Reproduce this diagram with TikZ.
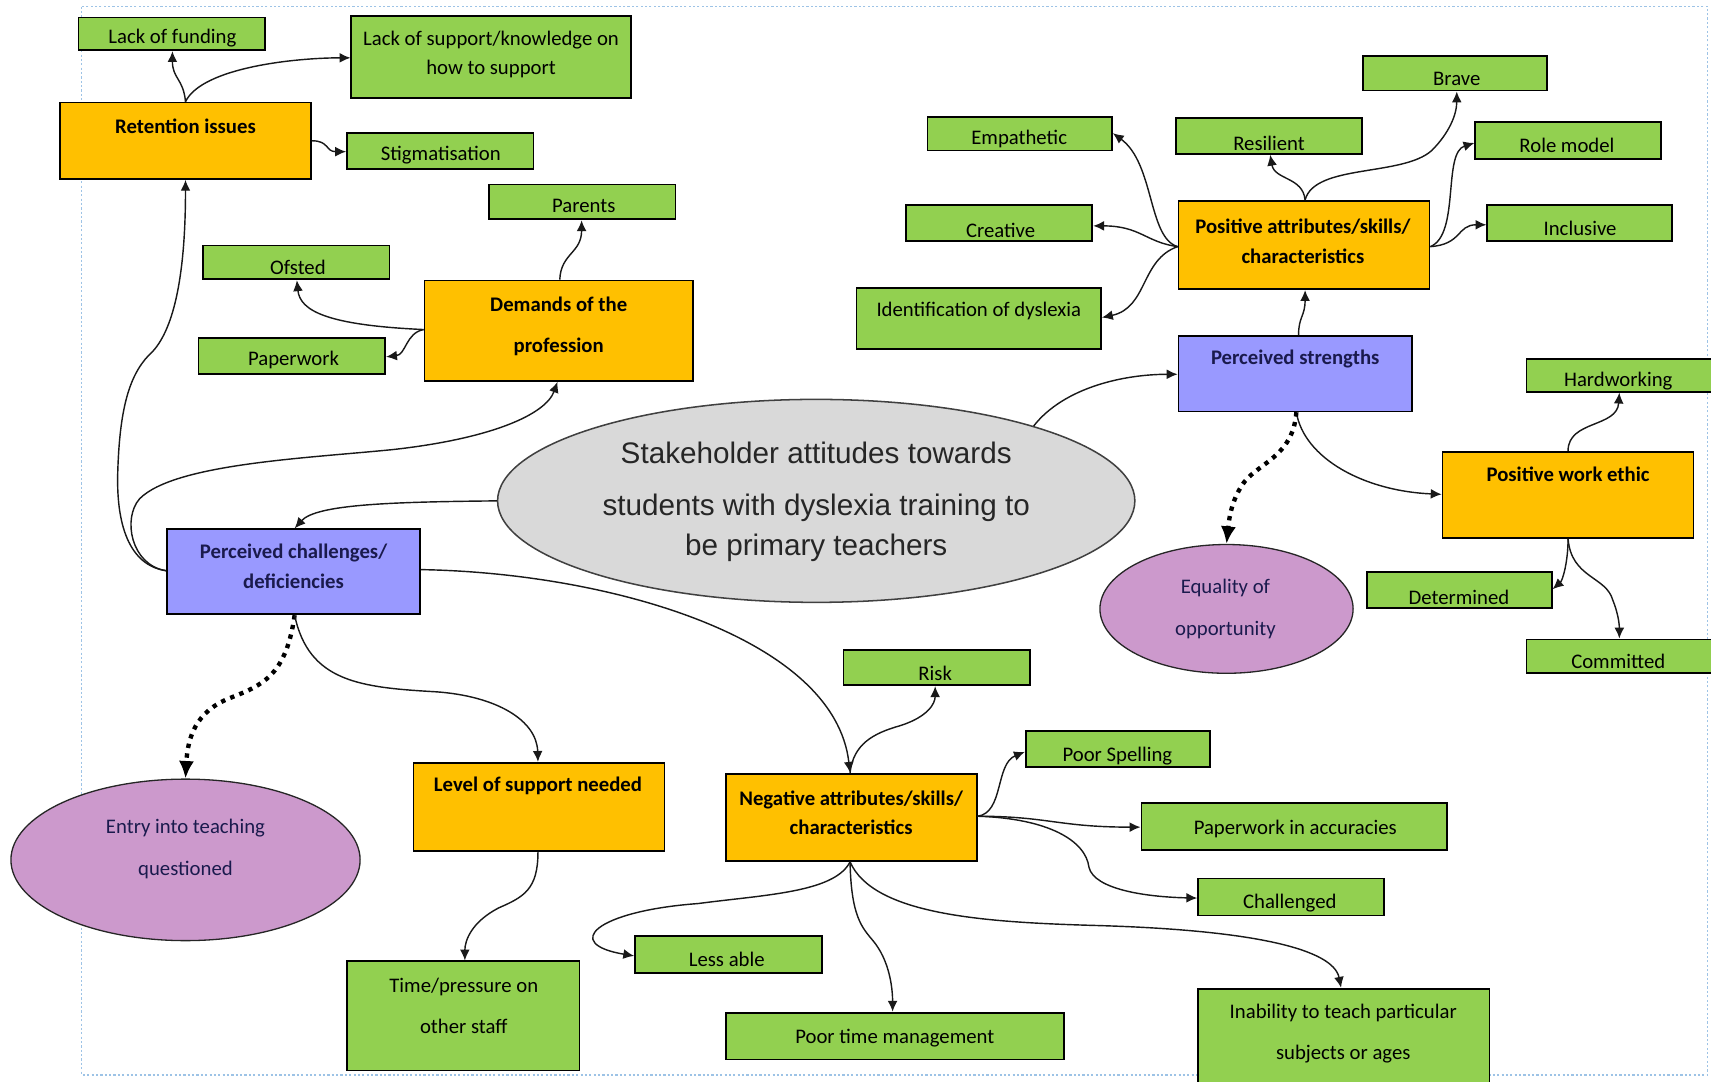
\documentclass[tikz,border=0pt]{standalone}
\usepackage{fontspec}
\setmainfont{Carlito}
\newfontfamily\arialfont{Liberation Sans}
\usetikzlibrary{arrows.meta,shapes.geometric,fit}
\definecolor{boxgreen}{HTML}{92D050}
\definecolor{boxorange}{HTML}{FFC000}
\definecolor{boxblue}{HTML}{9999FF}
\definecolor{ellpurple}{HTML}{CC99CC}
\definecolor{ellgray}{HTML}{D9D9D9}
\definecolor{navytext}{HTML}{1A1A4D}
\definecolor{bordblue}{HTML}{9DC3E6}
\definecolor{centxt}{HTML}{262626}
\newcommand\boxtight{\fontsize{9.5}{13.5}\selectfont}
\newcommand\boxloose{\fontsize{9.5}{19}\selectfont}
\tikzset{
  box/.style={rectangle, draw=black, line width=0.8pt, inner sep=0pt},
  gbox/.style={box, fill=boxgreen},
  obox/.style={box, fill=boxorange},
  bbox/.style={box, fill=boxblue},
  pell/.style={ellipse, draw=black!85, line width=0.6pt, fill=ellpurple, inner sep=0pt},
  cell/.style={ellipse, draw=black!75, line width=0.7pt, fill=ellgray, inner sep=0pt},
  txt/.style={font=\boxtight, align=center, inner sep=0pt, yshift=-1pt},
  txtb/.style={font=\boxtight\bfseries, align=center, inner sep=0pt, yshift=-1pt},
  conn/.style={draw=black!90, line width=0.65pt, -{Latex[length=5pt,width=4.5pt]}},
  dotconn/.style={draw=black, line width=2pt, dash pattern=on 2pt off 2.5pt, -{Latex[length=8pt,width=7pt]}}
}
\begin{document}
\begin{tikzpicture}[x=0.5pt,y=-0.5pt]
\useasboundingbox (0,0) rectangle (1568,991);
\clip (0,0) rectangle (1568,991);
\fill[white] (0,0) rectangle (1568,991);
\draw[bordblue, line width=0.6pt, dash pattern=on 1pt off 1pt] (75,6) rectangle (1565,985);

% ---- nodes ----
\node[gbox, fit={(72,16) (243,46)}] (lf) {};
\node[txt] (lf-t) at (158,33) {Lack of funding};
\node[gbox, fit={(322,15) (578,90)}] (ls) {};
\node[txt] (ls-t) at (450,48) {Lack of support/knowledge on\\how to support};
\node[obox, fit={(55,94) (285,164)}] (ret) {};
\node[txtb] (ret-t) at (170,114) {Retention issues};
\node[gbox, fit={(318,122) (489,155)}] (stig) {};
\node[txt] (stig-t) at (404,140) {Stigmatisation};
\node[gbox, fit={(448,169) (619,201)}] (par) {};
\node[txt] (par-t) at (535,187) {Parents};
\node[gbox, fit={(186,225) (357,256)}] (ofs) {};
\node[txt] (ofs-t) at (273,243) {Ofsted};
\node[obox, fit={(389,257) (635,349)}] (dem) {};
\node[txtb, font=\boxloose\bfseries] (dem-t) at (512,297) {Demands of the\\profession};
\node[gbox, fit={(182,310) (353,343)}] (pw) {};
\node[txt] (pw-t) at (269,328) {Paperwork};

\node[gbox, fit={(850,107) (1019,138)}] (emp) {};
\node[txt] (emp-t) at (934,125) {Empathetic};
\node[gbox, fit={(1078,108) (1248,141)}] (res) {};
\node[txt] (res-t) at (1163,129) {Resilient};
\node[gbox, fit={(1249,51) (1418,83)}] (brave) {};
\node[txt] (brave-t) at (1335,70) {Brave};
\node[gbox, fit={(1352,112) (1522,146)}] (role) {};
\node[txt] (role-t) at (1436,131) {Role model};
\node[gbox, fit={(830,188) (1001,221)}] (creat) {};
\node[txt] (creat-t) at (917,209) {Creative};
\node[gbox, fit={(1363,188) (1532,221)}] (incl) {};
\node[txt] (incl-t) at (1448,207) {Inclusive};
\node[obox, fit={(1080,184) (1310,265)}] (pa) {};
\node[txtb] (pa-t) at (1194,219) {Positive attributes/skills/\\characteristics};
\node[gbox, fit={(785,264) (1009,320)}] (idd) {};
\node[txt] (idd-t) at (897,283) {Identification of dyslexia};
\node[bbox, fit={(1080,308) (1294,377)}] (ps) {};
\node[txtb, text=navytext] (ps-t) at (1187,327) {Perceived strengths};
\node[gbox, fit={(1399,329) (1590,359)}] (hw) {};
\node[txt] (hw-t) at (1483,347) {Hardworking};
\node[obox, fit={(1322,414) (1552,493)}] (pwe) {};
\node[txtb] (pwe-t) at (1437,433) {Positive work ethic};
\node[gbox, fit={(1253,524) (1422,557)}] (det) {};
\node[txt] (det-t) at (1337,545) {Determined};
\node[gbox, fit={(1399,586) (1590,617)}] (com) {};
\node[txt] (com-t) at (1483,604) {Committed};
\node[pell, minimum width=116pt, minimum height=59pt] (eq) at (1124,558) {};
\node[txt, font=\boxloose, text=navytext] (eq-t) at (1123,556) {Equality of\\opportunity};

\node[cell, minimum width=292pt, minimum height=93pt] (cen) at (748,459) {};
\node[font=\arialfont\fontsize{13.6}{18.5}\selectfont, text=centxt, align=center, inner sep=0pt] (cen-t) at (748,460) {Stakeholder attitudes towards\\[5pt]students with dyslexia training to\\be primary teachers};

\node[bbox, fit={(153,485) (385,563)}] (pc) {};
\node[txtb, text=navytext] (pc-t) at (269,517) {Perceived challenges/\\deficiencies};
\node[pell, minimum width=160pt, minimum height=74pt] (entry) at (170,788) {};
\node[txt, font=\boxloose, text=navytext] (entry-t) at (170,776) {Entry into teaching\\questioned};
\node[obox, fit={(379,699) (609,780)}] (los) {};
\node[txtb] (los-t) at (493,718) {Level of support needed};
\node[gbox, fit={(318,881) (531,981)}] (tp) {};
\node[txt, font=\boxloose] (tp-t) at (425,920) {Time/pressure on\\other staff};

\node[gbox, fit={(773,596) (944,628)}] (risk) {};
\node[txt] (risk-t) at (857,615) {Risk};
\node[obox, fit={(665,709) (895,789)}] (neg) {};
\node[txtb] (neg-t) at (780,743) {Negative attributes/skills/\\characteristics};
\node[gbox, fit={(940,670) (1109,703)}] (spell) {};
\node[txt] (spell-t) at (1024,691) {Poor Spelling};
\node[gbox, fit={(1046,736) (1326,779)}] (pia) {};
\node[txt] (pia-t) at (1187,758) {Paperwork in accuracies};
\node[gbox, fit={(1098,805) (1268,839)}] (chal) {};
\node[txt] (chal-t) at (1182,826) {Challenged};
\node[gbox, fit={(582,858) (753,892)}] (less) {};
\node[txt] (less-t) at (666,877) {Less able};
\node[gbox, fit={(665,928) (975,971)}] (ptm) {};
\node[txt] (ptm-t) at (820,949) {Poor time management};
\node[gbox, fit={(1098,906) (1365,1010)}] (inab) {};
\node[txt, font=\boxloose] (inab-t) at (1231,945) {Inability to teach particular\\subjects or ages};

% ---- connectors ----
% Retention issues
\draw[conn] (ret.north -| 170,0) .. controls (168,72) and (158,72) .. (lf.south -| 158,0);
\draw[conn] (ret.north -| 170,0) .. controls (185,62) and (270,53) .. (ls.west |- 0,53);
\draw[conn] (ret.east |- 0,129) .. controls (302,129) and (298,139) .. (stig.west |- 0,139);
% Perceived challenges -> Retention / Demands
\draw[conn] (pc.west |- 0,523) .. controls (118,518) and (106,480) .. (108,430) .. controls (110,370) and (120,340) .. (140,322) .. controls (160,300) and (170,250) .. (ret.south -| 170,0);
\draw[conn] (pc.west |- 0,523) .. controls (120,518) and (112,475) .. (128,457) .. controls (160,425) and (280,420) .. (360,412) .. controls (450,402) and (500,380) .. (dem.south -| 511,0);
% Demands
\draw[conn] (dem.north -| 513,0) .. controls (514,232) and (533,232) .. (par.south -| 533,0);
\draw[conn] (dem.west |- 0,302) .. controls (300,298) and (275,285) .. (ofs.south -| 272,0);
\draw[conn] (dem.west |- 0,302) .. controls (372,305) and (372,325) .. (pw.east |- 0,327);
% Central
\draw[conn] (cen.west) .. controls (360,460) and (290,462) .. (pc.north -| 270,0);
\draw[conn] (cen.19) .. controls (975,355) and (1030,343) .. (ps.west |- 0,343);
% Perceived strengths
\draw[conn] (ps.north -| 1190,0) .. controls (1190,290) and (1196,290) .. (pa.south -| 1196,0);
\draw[conn] (ps.south -| 1188,0) .. controls (1195,420) and (1250,450) .. (pwe.west |- 0,453);
\draw[dotconn] (ps.south -| 1188,0) .. controls (1185,420) and (1150,425) .. (1138,445) .. controls (1127,462) and (1126,480) .. (eq.north);
% Positive attributes
\draw[conn] (pa.west |- 0,226) .. controls (1052,218) and (1058,150) .. (emp.east |- 0,122);
\draw[conn] (pa.west |- 0,226) .. controls (1050,222) and (1045,207) .. (creat.east |- 0,207);
\draw[conn] (pa.west |- 0,226) .. controls (1045,238) and (1052,282) .. (idd.east |- 0,291);
\draw[conn] (pa.north -| 1196,0) .. controls (1194,162) and (1168,165) .. (res.south -| 1164,0);
\draw[conn] (pa.north -| 1196,0) .. controls (1205,150) and (1285,162) .. (1312,138) .. controls (1328,122) and (1335,105) .. (brave.south -| 1335,0);
\draw[conn] (pa.east |- 0,226) .. controls (1338,215) and (1322,140) .. (role.west |- 0,131);
\draw[conn] (pa.east |- 0,226) .. controls (1340,224) and (1335,206) .. (incl.west |- 0,206);
% Positive work ethic
\draw[conn] (pwe.north -| 1437,0) .. controls (1437,385) and (1482,392) .. (hw.south -| 1484,0);
\draw[conn] (pwe.south -| 1437,0) .. controls (1437,515) and (1432,532) .. (det.east |- 0,540);
\draw[conn] (pwe.south -| 1437,0) .. controls (1440,530) and (1472,528) .. (1478,550) .. controls (1484,565) and (1484,575) .. (com.north -| 1484,0);
% Perceived challenges downward
\draw[conn] (pc.east |- 0,522) .. controls (560,525) and (765,585) .. (neg.north -| 779,0);
\draw[dotconn] (pc.south -| 270,0) .. controls (262,620) and (240,628) .. (210,640) .. controls (180,652) and (172,675) .. (entry.north);
\draw[conn] (pc.south -| 270,0) .. controls (283,625) and (330,630) .. (400,634) .. controls (455,638) and (492,660) .. (los.north -| 493,0);
\draw[conn] (los.south -| 493,0) .. controls (493,815) and (480,822) .. (457,832) .. controls (432,845) and (426,862) .. (tp.north -| 426,0);
% Negative attributes
\draw[conn] (neg.north -| 779,0) .. controls (782,682) and (800,672) .. (825,665) .. controls (850,657) and (857,645) .. (risk.south -| 857,0);
\draw[conn] (neg.east |- 0,748) .. controls (920,745) and (912,700) .. (spell.west |- 0,689);
\draw[conn] (neg.east |- 0,748) .. controls (960,748) and (970,758) .. (pia.west |- 0,758);
\draw[conn] (neg.east |- 0,748) .. controls (960,750) and (995,770) .. (998,795) .. controls (1003,815) and (1050,822) .. (chal.west |- 0,823);
\draw[conn] (neg.south -| 779,0) .. controls (765,818) and (700,820) .. (640,828) .. controls (545,835) and (515,865) .. (less.west |- 0,876);
\draw[conn] (neg.south -| 779,0) .. controls (780,840) and (790,850) .. (800,862) .. controls (815,880) and (818,905) .. (ptm.north -| 818,0);
\draw[conn] (neg.south -| 779,0) .. controls (800,838) and (900,845) .. (1000,848) .. controls (1150,852) and (1222,870) .. (inab.north -| 1229,0);
\end{tikzpicture}
\end{document}
